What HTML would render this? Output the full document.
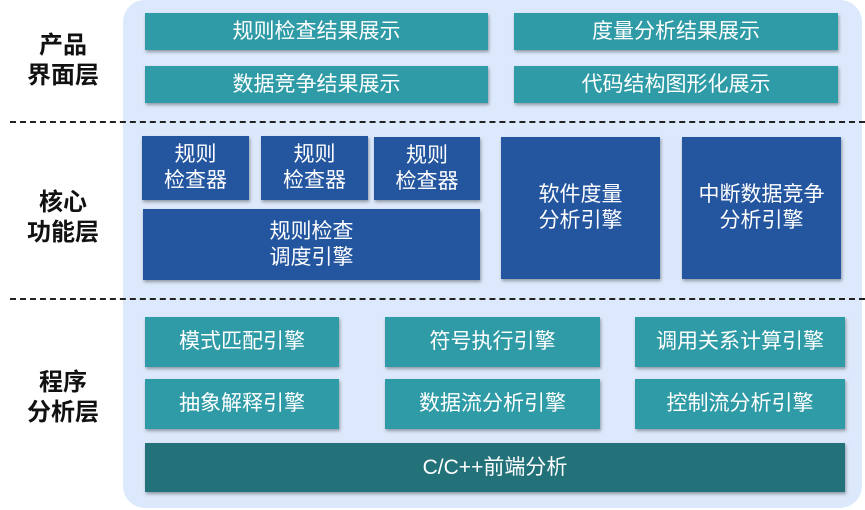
<!DOCTYPE html>
<html><head><meta charset="utf-8"><style>
body{margin:0;width:865px;height:510px;background:#fff;position:relative;overflow:hidden;font-family:"Liberation Sans","Noto Sans CJK SC",sans-serif}
.bg{position:absolute;left:123px;top:0;width:739px;height:508px;background:#dce8fb;border-radius:22px}
.b{position:absolute;display:flex;align-items:center;justify-content:center;text-align:center;color:#fff;font-size:21px;line-height:26px;box-shadow:1px 2px 3px rgba(0,0,0,.35)}
.t{background:#2f9ba7}
.d{background:#24559f}
.f{background:#23727a}
.dash{position:absolute;left:10px;width:855px;border-top:2px dashed #222}
.lab{position:absolute;left:8px;width:110px;text-align:center;font-weight:bold;font-size:24px;line-height:30px;color:#111}
</style></head><body>
<div class="bg"></div>
<div class="dash" style="top:121px"></div>
<div class="dash" style="top:298px"></div>
<div class="lab" style="top:31px">产品<br>界面层</div>
<div class="lab" style="top:188px">核心<br>功能层</div>
<div class="lab" style="top:368px">程序<br>分析层</div>

<div class="b t" style="left:145px;top:13px;width:343px;height:37px">规则检查结果展示</div>
<div class="b t" style="left:514px;top:13px;width:324px;height:37px">度量分析结果展示</div>
<div class="b t" style="left:145px;top:66px;width:343px;height:37px">数据竞争结果展示</div>
<div class="b t" style="left:514px;top:66px;width:324px;height:37px">代码结构图形化展示</div>

<div class="b d" style="left:142px;top:136px;width:107px;height:64px">规则<br>检查器</div>
<div class="b d" style="left:261px;top:136px;width:107px;height:64px">规则<br>检查器</div>
<div class="b d" style="left:374px;top:137px;width:106px;height:63px">规则<br>检查器</div>
<div class="b d" style="left:143px;top:209px;width:337px;height:71px">规则检查<br>调度引擎</div>
<div class="b d" style="left:501px;top:137px;width:159px;height:142px">软件度量<br>分析引擎</div>
<div class="b d" style="left:682px;top:137px;width:159px;height:142px">中断数据竞争<br>分析引擎</div>

<div class="b t" style="left:145px;top:317px;width:194px;height:50px">模式匹配引擎</div>
<div class="b t" style="left:385px;top:317px;width:215px;height:50px">符号执行引擎</div>
<div class="b t" style="left:635px;top:317px;width:210px;height:50px">调用关系计算引擎</div>
<div class="b t" style="left:145px;top:379px;width:194px;height:50px">抽象解释引擎</div>
<div class="b t" style="left:385px;top:379px;width:215px;height:50px">数据流分析引擎</div>
<div class="b t" style="left:635px;top:379px;width:210px;height:50px">控制流分析引擎</div>
<div class="b f" style="left:145px;top:443px;width:700px;height:49px">C/C++前端分析</div>
</body></html>
